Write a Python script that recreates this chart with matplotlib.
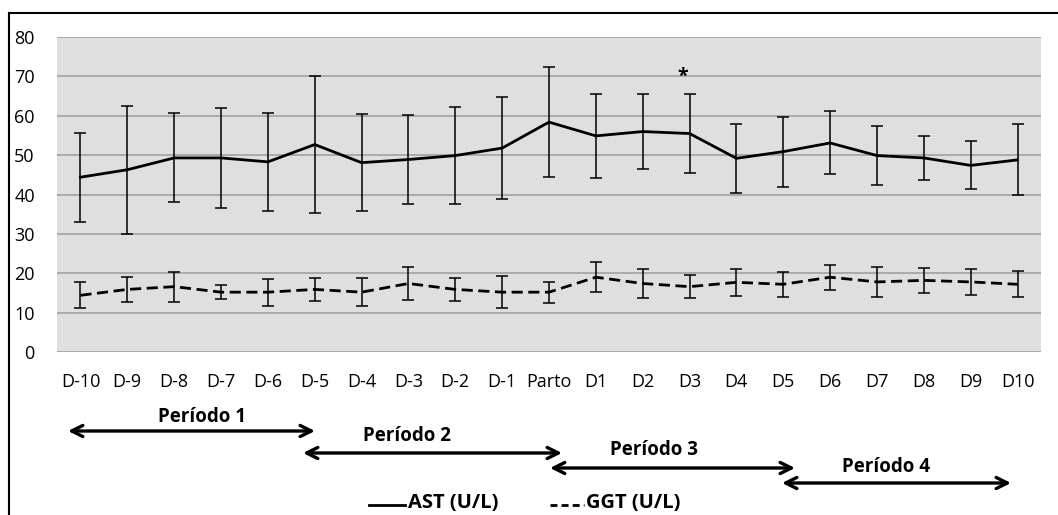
import matplotlib.pyplot as plt
from matplotlib.lines import Line2D
from matplotlib.patches import FancyArrowPatch

plt.rcParams['font.family'] = ['Open Sans', 'DejaVu Sans']

days = ['D-10', 'D-9', 'D-8', 'D-7', 'D-6', 'D-5', 'D-4', 'D-3', 'D-2', 'D-1', 'Parto',
        'D1', 'D2', 'D3', 'D4', 'D5', 'D6', 'D7', 'D8', 'D9', 'D10']

ast = [44.4, 46.3, 49.3, 49.3, 48.3, 52.7, 48.1, 48.9, 49.9, 51.8, 58.4,
       54.9, 56.0, 55.5, 49.2, 50.9, 53.1, 49.9, 49.3, 47.4, 48.8]
ast_sd = [11.3, 16.3, 11.3, 12.6, 12.4, 17.3, 12.4, 11.4, 12.4, 13.0, 13.9,
          10.7, 9.6, 10.1, 8.7, 8.9, 8.0, 7.5, 5.5, 6.1, 9.0]

ggt = [14.4, 15.9, 16.6, 15.2, 15.2, 15.9, 15.2, 17.4, 15.9, 15.2, 15.2,
       19.0, 17.4, 16.6, 17.7, 17.2, 19.0, 17.8, 18.2, 17.8, 17.2]
ggt_sd = [3.3, 3.2, 3.8, 1.8, 3.4, 2.9, 3.6, 4.3, 3.0, 4.0, 2.7,
          3.8, 3.7, 2.9, 3.4, 3.2, 3.2, 3.9, 3.1, 3.4, 3.3]

periods = ['Período 1', 'Período 2', 'Período 3', 'Período 4']

fig = plt.figure(figsize=(10.58, 5.15), dpi=100)
ax = fig.add_axes([0.0539, 0.3165, 0.930, 0.6115])
ax.set_facecolor('#dfdfdf')

x = list(range(len(days)))
ax.errorbar(x, ast, yerr=ast_sd, color='black', lw=2.0, elinewidth=1.1,
            capsize=4, capthick=1.1)
ax.errorbar(x, ggt, yerr=ggt_sd, color='black', lw=2.0, ls=(0, (4, 2)),
            elinewidth=1.1, capsize=4, capthick=1.1)

# significance mark at D3
ax.annotate('*', xy=(days.index('D3'), 70), xytext=(-5, 0), textcoords='offset points',
            ha='center', va='center', fontsize=14, fontweight='bold')

ax.set_xlim(-0.5, len(days) - 0.5)
ax.set_ylim(0, 80)
ax.set_yticks(range(0, 81, 10))
ax.set_xticks(x)
ax.set_xticklabels(days)
ax.yaxis.grid(True, color='#a6a6a6', lw=1.3)
ax.set_axisbelow(True)
ax.tick_params(length=0, labelsize=13)
ax.tick_params(axis='x', pad=15)
ax.tick_params(axis='y', pad=16)
for s in ax.spines.values():
    s.set_visible(False)

# outer frame (left and top only)
fig.add_artist(Line2D([0.0085, 0.0085], [0, 0.9748], color='black', lw=1.5))
fig.add_artist(Line2D([0.0085, 1], [0.9748, 0.9748], color='black', lw=1.5))

# period arrows (pixel positions)
arrows = [(68, 315, 431, 202, 417), (303, 562, 453, 407, 436),
          (550, 795, 468, 654, 450), (782, 1011, 483, 886, 467)]
W, H = 1058, 515
for name, (x0, x1, ya, xt, yt) in zip(periods, arrows):
    fig.add_artist(FancyArrowPatch(
        (x0 / W, 1 - ya / H), (x1 / W, 1 - ya / H), transform=fig.transFigure,
        arrowstyle='<->,head_length=8,head_width=4', color='black', lw=2.4,
        shrinkA=0, shrinkB=0))
    fig.text(xt / W, 1 - yt / H, name, ha='center', va='center',
             fontsize=13.5, fontweight='bold')

# legend
fig.add_artist(Line2D([369 / W, 405 / W], [1 - 505 / H] * 2, color='black', lw=2))
fig.text(408 / W, 1 - 503 / H, 'AST (U/L)', va='center', fontsize=14.5, fontweight='bold')
fig.add_artist(Line2D([550 / W, 584 / W], [1 - 505 / H] * 2, color='black', lw=2,
                      ls=(0, (2.5, 1.5))))
fig.text(586 / W, 1 - 503 / H, 'GGT (U/L)', va='center', fontsize=14.5, fontweight='bold')

fig.savefig('out.png', dpi=100)
